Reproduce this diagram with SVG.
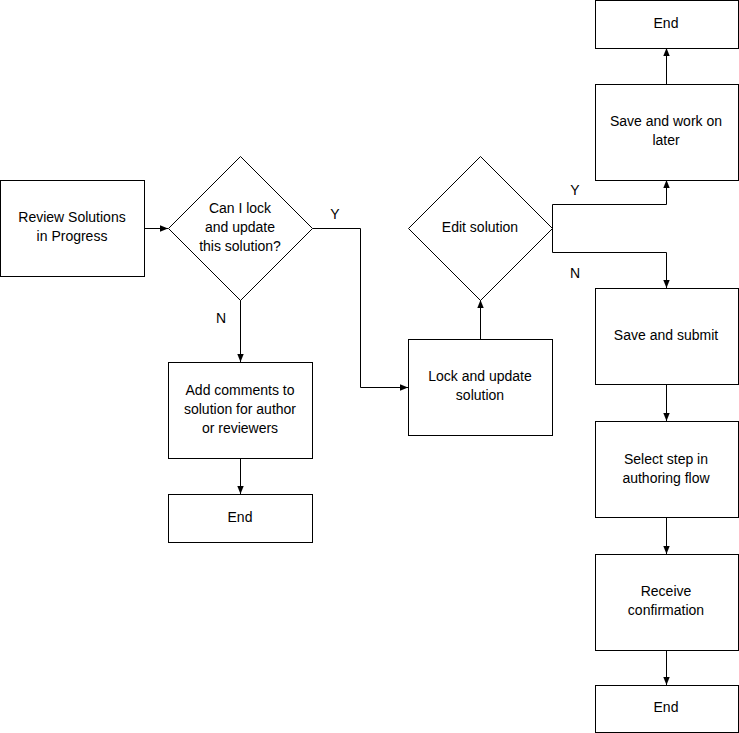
<svg xmlns="http://www.w3.org/2000/svg" width="739" height="733" viewBox="0 0 739 733">
<style>
.n{fill:#fff;stroke:#000;stroke-width:1}
.t{font-family:"Liberation Sans",Arial,sans-serif;font-size:14px;fill:#000;text-anchor:middle}
.c{fill:none;stroke:#000;stroke-width:1;marker-end:url(#a)}
</style>
<defs><marker id="a" viewBox="0 0 10 10" refX="10" refY="5" markerWidth="8" markerHeight="8" markerUnits="userSpaceOnUse" orient="auto"><path d="M0,1 L10,5 L0,9 z" fill="#000"/></marker></defs>
<rect width="739" height="733" fill="#fff"/>
<g id="connectors">
<path class="c" d="M144.5,228.5 H168"/>
<path class="c" d="M312.5,228.5 H360.5 V387.5 H408"/>
<path class="c" d="M240.5,300 V362"/>
<path class="c" d="M240.5,458 V494"/>
<path class="c" d="M480.5,339 V300"/>
<path class="c" d="M552.5,228 V204.5 H666.5 V180"/>
<path class="c" d="M552.5,228 V252.5 H666.5 V288"/>
<path class="c" d="M666.5,84 V48"/>
<path class="c" d="M666.5,384 V421"/>
<path class="c" d="M666.5,517 V554"/>
<path class="c" d="M666.5,650 V685"/>
<text class="t" x="335" y="219">Y</text>
<text class="t" x="221" y="323">N</text>
<text class="t" x="575" y="195">Y</text>
<text class="t" x="575" y="278">N</text>
</g>
<g id="review"><rect class="n" x="0.5" y="180.5" width="144" height="96"/><text class="t" x="72" y="222">Review Solutions</text><text class="t" x="72" y="241">in Progress</text></g>
<g id="canlock"><path class="n" d="M240.5,156.5 L312.5,228.5 L240.5,300.5 L168.5,228.5 Z"/><text class="t" x="240" y="213">Can I lock</text><text class="t" x="240" y="232">and update</text><text class="t" x="240" y="251">this solution?</text></g>
<g id="addcomments"><rect class="n" x="168.5" y="362.5" width="144" height="96"/><text class="t" x="240" y="395">Add comments to</text><text class="t" x="240" y="414">solution for author</text><text class="t" x="240" y="433">or reviewers</text></g>
<g id="end1"><rect class="n" x="168.5" y="494.5" width="144" height="48"/><text class="t" x="240" y="522">End</text></g>
<g id="lock"><rect class="n" x="408.5" y="339.5" width="144" height="96"/><text class="t" x="480" y="381">Lock and update</text><text class="t" x="480" y="400">solution</text></g>
<g id="edit"><path class="n" d="M480.5,156.5 L552.5,228.5 L480.5,300.5 L408.5,228.5 Z"/><text class="t" x="480" y="232">Edit solution</text></g>
<g id="savelater"><rect class="n" x="595.5" y="84.5" width="143" height="96"/><text class="t" x="666" y="126">Save and work on</text><text class="t" x="666" y="145">later</text></g>
<g id="endtop"><rect class="n" x="595.5" y="0.5" width="143" height="48"/><text class="t" x="666" y="28">End</text></g>
<g id="submit"><rect class="n" x="595.5" y="288.5" width="143" height="96"/><text class="t" x="666" y="340">Save and submit</text></g>
<g id="select"><rect class="n" x="595.5" y="421.5" width="143" height="96"/><text class="t" x="666" y="464">Select step in</text><text class="t" x="666" y="483">authoring flow</text></g>
<g id="receive"><rect class="n" x="595.5" y="554.5" width="143" height="96"/><text class="t" x="666" y="596">Receive</text><text class="t" x="666" y="615">confirmation</text></g>
<g id="endbottom"><rect class="n" x="595.5" y="685.5" width="143" height="47"/><text class="t" x="666" y="712">End</text></g>
</svg>
